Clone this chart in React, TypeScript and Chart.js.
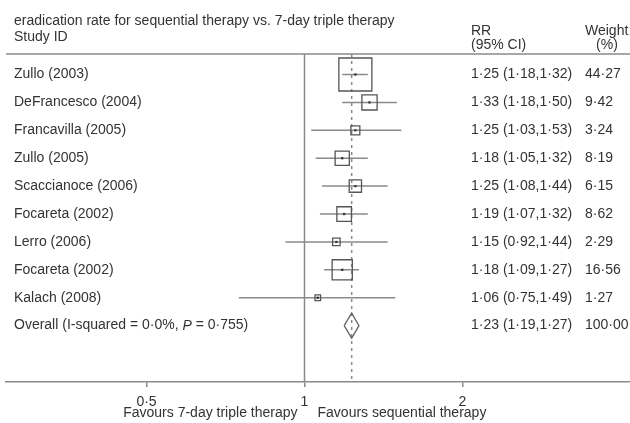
import React, { useEffect, useRef } from "react";
import { Chart, registerables } from "chart.js";

Chart.register(...registerables);

const studies = [
  "Zullo (2003)",
  "DeFrancesco (2004)",
  "Francavilla (2005)",
  "Zullo (2005)",
  "Scaccianoce (2006)",
  "Focareta (2002)",
  "Lerro (2006)",
  "Focareta (2002)",
  "Kalach (2008)",
];
const rr = [1.25, 1.33, 1.25, 1.18, 1.25, 1.19, 1.15, 1.18, 1.06];
const ciLow = [1.18, 1.18, 1.03, 1.05, 1.08, 1.07, 0.92, 1.09, 0.75];
const ciHigh = [1.32, 1.5, 1.53, 1.32, 1.44, 1.32, 1.44, 1.27, 1.49];
const weights = [44.27, 9.42, 3.24, 8.19, 6.15, 8.62, 2.29, 16.56, 1.27];
const overallRR = 1.23;
const overallLow = 1.19;
const overallHigh = 1.27;
const overallWeight = 100.0;
const xTicks = [0.5, 1, 2];

const FONT = '"Liberation Sans", Arial, Helvetica, sans-serif';
const TEXT = "#333333";
const LINE = "#8a8a8a";

const Y_MIN = -0.735;
const Y_MAX = 11.02;

const fmt = (v: number) => v.toFixed(2).replace(".", "·");
const fmtTick = (v: number) => String(v).replace(".", "·");

const textPlugin = {
  id: "forestText",
  afterDraw(chart: any) {
    const ctx = chart.ctx;
    const xs = chart.scales.x;
    const ys = chart.scales.y;
    const area = chart.chartArea;
    ctx.save();
    // header separator line
    ctx.strokeStyle = LINE;
    ctx.lineWidth = 1.5;
    ctx.beginPath();
    ctx.moveTo(area.left, area.top);
    ctx.lineTo(area.right, area.top);
    ctx.stroke();

    ctx.fillStyle = TEXT;
    ctx.font = `14px ${FONT}`;
    ctx.textBaseline = "middle";
    ctx.textAlign = "left";
    ctx.fillText("eradication rate for sequential therapy vs. 7-day triple therapy", 14, 21);
    ctx.fillText("Study ID", 14, 37);
    ctx.fillText("RR", 471, 31);
    ctx.fillText("(95% CI)", 471, 45);
    ctx.fillText("Weight", 585, 31);
    ctx.textAlign = "center";
    ctx.fillText("(%)", 607, 45);
    ctx.textAlign = "left";

    studies.forEach((s, i) => {
      const y = ys.getPixelForValue(i);
      ctx.fillText(s, 14, y);
      ctx.fillText(`${fmt(rr[i])} (${fmt(ciLow[i])},${fmt(ciHigh[i])})`, 471, y);
      ctx.fillText(fmt(weights[i]), 585, y);
    });

    const yo = ys.getPixelForValue(studies.length);
    const p1 = "Overall (I-squared = 0·0%, ";
    ctx.fillText(p1, 14, yo);
    let x = 14 + ctx.measureText(p1).width;
    ctx.font = `italic 14px ${FONT}`;
    ctx.fillText("P", x, yo);
    x += ctx.measureText("P").width;
    ctx.font = `14px ${FONT}`;
    ctx.fillText(" = 0·755)", x, yo);
    ctx.fillText(`${fmt(overallRR)} (${fmt(overallLow)},${fmt(overallHigh)})`, 471, yo);
    ctx.fillText(fmt(overallWeight), 585, yo);

    const x1 = xs.getPixelForValue(1);
    ctx.textAlign = "right";
    ctx.fillText("Favours 7-day triple therapy", x1 - 7, 413);
    ctx.textAlign = "left";
    ctx.fillText("Favours sequential therapy", x1 + 13, 413);
    ctx.restore();
  },
};

export default function App() {
  const ref = useRef<HTMLCanvasElement | null>(null);

  useEffect(() => {
    document.body.style.margin = "0";
    if (!ref.current) return;

    const ciSets = studies.map((_, i) => ({
      data: [
        { x: ciLow[i], y: i },
        { x: ciHigh[i], y: i },
      ],
      showLine: true,
      borderColor: LINE,
      borderWidth: 1.5,
      pointRadius: 0,
      order: 5,
    }));

    const n = studies.length;
    const dh = 0.45;

    const chart = new Chart(ref.current, {
      type: "scatter",
      data: {
        datasets: [
          {
            data: [
              { x: 1, y: Y_MIN },
              { x: 1, y: Y_MAX },
            ],
            showLine: true,
            borderColor: LINE,
            borderWidth: 1.5,
            pointRadius: 0,
            order: 6,
          },
          {
            data: [
              { x: overallRR, y: Y_MIN },
              { x: overallRR, y: Y_MAX },
            ],
            showLine: true,
            borderColor: LINE,
            borderWidth: 1.5,
            borderDash: [3, 4],
            pointRadius: 0,
            order: 6,
          },
          ...ciSets,
          {
            data: rr.map((v, i) => ({ x: v, y: i })),
            pointStyle: "rect",
            pointRadius: (c: any) => (4.96 * Math.sqrt(weights[c.dataIndex] ?? 1)) / Math.SQRT2,
            pointHoverRadius: (c: any) => (4.96 * Math.sqrt(weights[c.dataIndex] ?? 1)) / Math.SQRT2,
            backgroundColor: "rgba(0,0,0,0)",
            borderColor: "#555555",
            borderWidth: 1.3,
            order: 3,
          },
          {
            data: rr.map((v, i) => ({ x: v, y: i })),
            pointStyle: "rect",
            pointRadius: 1.6,
            backgroundColor: "#333333",
            borderColor: "#333333",
            borderWidth: 0,
            order: 2,
          },
          {
            data: [
              { x: overallLow, y: n },
              { x: overallRR, y: n - dh },
              { x: overallHigh, y: n },
              { x: overallRR, y: n + dh },
              { x: overallLow, y: n },
            ],
            showLine: true,
            borderColor: "#666666",
            borderWidth: 1.3,
            pointRadius: 0,
            fill: false,
            order: 1,
          },
        ] as any,
      },
      options: {
        animation: false,
        responsive: false,
        events: [],
        layout: { autoPadding: false, padding: { top: 54, left: 6, right: 0, bottom: 0 } },
        plugins: {
          legend: { display: false },
          tooltip: { enabled: false },
          title: { display: false },
        },
        scales: {
          x: {
            type: "logarithmic",
            min: 0.2699,
            max: 4.171,
            afterBuildTicks: (s: any) => {
              s.ticks = xTicks.map((v) => ({ value: v }));
            },
            afterFit: (s: any) => {
              s.height = 41;
            },
            ticks: {
              autoSkip: false,
              maxRotation: 0,
              padding: 7,
              color: TEXT,
              font: { family: FONT, size: 14 },
              callback: (v: any) => fmtTick(Number(v)),
            },
            grid: {
              drawOnChartArea: false,
              drawTicks: true,
              tickLength: 5,
              color: LINE,
              lineWidth: 1.5,
            },
            border: { display: true, color: LINE, width: 1.5 },
          },
          y: {
            type: "linear",
            min: Y_MIN,
            max: Y_MAX,
            reverse: true,
            display: false,
          },
        },
      } as any,
      plugins: [textPlugin],
    });

    return () => chart.destroy();
  }, []);

  return <canvas ref={ref} width={630} height={423} style={{ display: "block" }} />;
}
